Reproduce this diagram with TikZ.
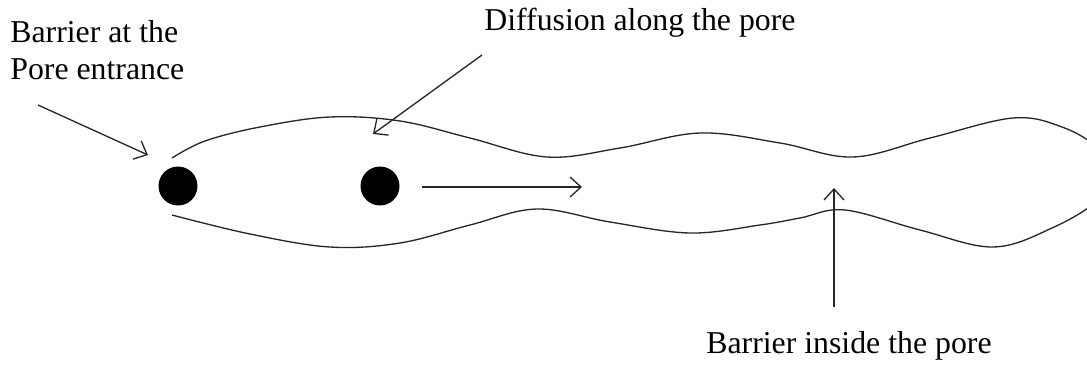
\documentclass[tikz,border=0pt]{standalone}
\usepackage{fontspec}
\setmainfont{Liberation Serif}
\usetikzlibrary{arrows.meta,positioning}

\tikzset{
  label text/.style={inner sep=0pt, font=\fontsize{18.1}{21.3}\selectfont},
  pore wall/.style={line width=0.75pt, black!85},
  pointer/.style={line width=0.75pt, black!85, -{Straight Barb[length=2.2mm,width=4mm]}},
  molecule/.style={circle, fill=black, inner sep=0pt, minimum size=0.78cm}
}

\begin{document}
\begin{tikzpicture}[x=0.02cm, y=-0.02cm]
    \useasboundingbox (0,0) rectangle (1087,365);
    \clip (0,0) rectangle (1087,365);

    % Labels
    \node[label text, anchor=north west, align=left] (entrance) at (10,20) {Barrier at the\\Pore entrance};
    \node[label text, anchor=base west] (diffusion) at (484,31) {Diffusion along the pore};
    \node[label text, anchor=base west] (inside) at (706,353) {Barrier inside the pore};

    % Molecules
    \node[molecule] (m1) at (178,186) {};
    \node[molecule] (m2) at (380,186) {};

    % Pore walls
    \draw[pore wall] plot[smooth, tension=0.6] coordinates {
        (172,158) (205,141) (260,127) (330,117) (400,121) (470,138) (547,157)
        (620,148) (700,133) (780,143) (853,157) (930,138) (1013,118) (1062,127)
        (1098,148) (1110,172) (1098,200) (1052,228) (993,247) (920,230)
        (845,210) (800,218) (760,225) (690,233) (610,222) (537,209) (470,225)
        (400,243) (330,247) (250,234) (172,215)};

    % Pointers
    \coordinate (entrance tail) at (38,105);
    \coordinate (entrance tip) at (148,155);
    \coordinate (diffusion tail) at (482,55);
    \coordinate (diffusion tip) at (373,134);
    \coordinate (motion tail) at (422,187);
    \coordinate (motion tip) at (582,187);
    \coordinate (inside tail) at (834,307);
    \coordinate (inside tip) at (834,188);
    \draw[pointer] (entrance tail) -- (entrance tip);
    \draw[pointer] (diffusion tail) -- (diffusion tip);
    \draw[pointer] (motion tail) -- (motion tip);
    \draw[pointer] (inside tail) -- (inside tip);
\end{tikzpicture}
\end{document}
